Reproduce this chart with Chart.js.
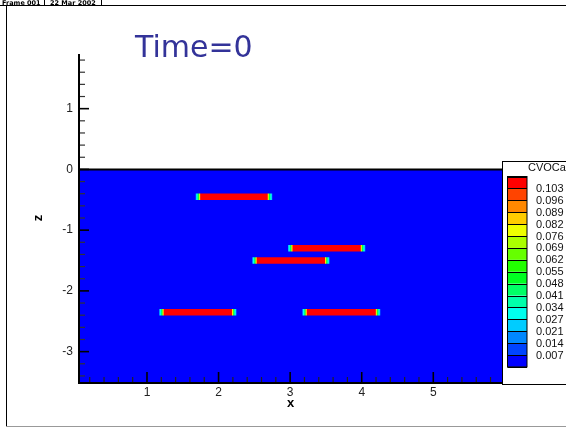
<!DOCTYPE html>
<html><head><meta charset="utf-8">
<script src="https://cdn.jsdelivr.net/npm/chart.js@4/dist/chart.umd.min.js"></script>
<style>html,body{margin:0;padding:0;background:#fff;overflow:hidden}#wrap{position:relative;width:566px;height:428px}</style>
</head><body><div id="wrap"><canvas id="c" width="566" height="428"></canvas></div>
<script>
// ---- data ----
const barStartX = [1.68, 2.97, 2.47, 1.17, 3.17];
const barEndX   = [2.75, 4.05, 3.55, 2.25, 4.26];
const barZ      = [-0.45, -1.30, -1.50, -2.35, -2.35];
const domainX = [0.05, 5.96];
const domainTopZ = 0;
const yRange = [-3.5, 1.9];
const xTickLabels = [1, 2, 3, 4, 5];
const yTickLabels = [1, 0, -1, -2, -3];
const minorStep = 0.2;
const legendTitle = 'CVOCa';
const legendLevels = ['0.103','0.096','0.089','0.082','0.076','0.069','0.062','0.055','0.048','0.041','0.034','0.027','0.021','0.014','0.007'];
const legendColors = ['#ff0000','#ff4400','#ff8800','#ffcc00','#eeff00','#aaff00','#66ff00','#22ff00','#00ff22','#00ff66','#00ffaa','#00ffee','#00ccff','#0088ff','#0044ff','#0000ff'];
const titleText = 'Time=0';
const frameLabels = ['Frame 001', '22 Mar 2002'];

function makeTicks(min, max) {
  const t = [];
  const a = Math.ceil(min / minorStep - 1e-9), b = Math.floor(max / minorStep + 1e-9);
  for (let k = a; k <= b; k++) t.push({ value: Math.round(k * minorStep * 1000) / 1000 });
  return t;
}
function isLabel(v, arr) { return Math.abs(v - Math.round(v)) < 1e-6 && arr.includes(Math.round(v)); }

function barGradient(ctx, i) {
  const chart = ctx.chart, xs = chart.scales && chart.scales.x;
  if (!xs || !chart.chartArea) return '#ff0000';
  const p0 = xs.getPixelForValue(barStartX[i]), p1 = xs.getPixelForValue(barEndX[i]);
  if (!isFinite(p0) || !isFinite(p1) || p1 <= p0) return '#ff0000';
  const f = 5 / (p1 - p0);
  const g = chart.ctx.createLinearGradient(p0, 0, p1, 0);
  g.addColorStop(0, '#0090ff'); g.addColorStop(f * 0.25, '#00ffff'); g.addColorStop(f * 0.55, '#00ff40');
  g.addColorStop(f * 0.8, '#ffee00'); g.addColorStop(f, '#ff0000');
  g.addColorStop(1 - f, '#ff0000'); g.addColorStop(1 - f * 0.8, '#ffee00'); g.addColorStop(1 - f * 0.55, '#00ff40');
  g.addColorStop(1 - f * 0.25, '#00ffff'); g.addColorStop(1, '#0090ff');
  return g;
}

const datasets = barZ.map((z, i) => ({
  type: 'line', order: 0,
  data: [{ x: barStartX[i], y: z }, { x: barEndX[i], y: z }],
  borderColor: (c) => barGradient(c, i), borderWidth: 6.5, borderCapStyle: 'butt',
  pointRadius: 0, fill: false
}));
datasets.push({
  type: 'line', order: 10,
  data: [{ x: domainX[0], y: domainTopZ }, { x: domainX[1], y: domainTopZ }],
  borderColor: '#000', borderWidth: 2, backgroundColor: '#0000ff', fill: 'start', pointRadius: 0
});

const deco = {
  id: 'deco',
  afterDatasetsDraw(chart) {
    const c = chart.ctx, a = chart.chartArea, xs = chart.scales.x, ys = chart.scales.y;
    c.save();
    xs.ticks.forEach(t => {
      const p = xs.getPixelForValue(t.value), maj = Math.abs(t.value - Math.round(t.value)) < 1e-6;
      c.strokeStyle = maj ? '#000' : '#222'; c.lineWidth = maj ? 1.6 : 1.2;
      c.beginPath(); c.moveTo(p, a.bottom); c.lineTo(p, a.bottom - (maj ? 10 : 5)); c.stroke();
    });
    ys.ticks.forEach(t => {
      const p = ys.getPixelForValue(t.value), maj = Math.abs(t.value - Math.round(t.value)) < 1e-6;
      c.strokeStyle = maj ? '#000' : '#333'; c.lineWidth = maj ? 1.6 : 1.2;
      c.beginPath(); c.moveTo(a.left, p); c.lineTo(a.left + (maj ? 10 : 6), p); c.stroke();
    });
    c.strokeStyle = '#000'; c.lineWidth = 2;
    c.beginPath(); c.moveTo(a.left, a.top); c.lineTo(a.left, a.bottom + 1); c.lineTo(a.right, a.bottom + 1); c.stroke();
    c.restore();
  },
  afterDraw(chart) {
    const c = chart.ctx, a = chart.chartArea;
    c.save();
    const lx = a.right, ly = 161, lb = 384;
    c.fillStyle = '#fff'; c.fillRect(lx, ly, 80, lb - ly);
    c.strokeStyle = '#000'; c.lineWidth = 1;
    c.strokeRect(lx + 0.5, ly + 0.5, 80, lb - ly);
    c.fillStyle = '#111'; c.font = '11px "Liberation Sans", Arial, sans-serif';
    c.textBaseline = 'middle'; c.textAlign = 'left';
    c.fillText(legendTitle, lx + 26, ly + 7);
    const sx = lx + 5.5, sw = 19.5, sTop = 176.5, sh = 11.9;
    legendColors.forEach((col, k) => {
      c.fillStyle = col; c.fillRect(sx, sTop + k * sh, sw, sh);
    });
    c.strokeStyle = '#000'; c.lineWidth = 1;
    for (let k = 0; k <= legendColors.length; k++) {
      const yy = Math.round(sTop + k * sh) + 0.5;
      c.beginPath(); c.moveTo(sx, yy); c.lineTo(sx + sw, yy); c.stroke();
    }
    c.strokeRect(sx, sTop, sw, legendColors.length * sh);
    c.fillStyle = '#111';
    legendLevels.forEach((lab, k) => {
      c.fillText(lab, lx + 34, sTop + (k + 1) * sh + 0.5);
    });
    c.fillStyle = '#333399'; c.font = '30px "DejaVu Sans", sans-serif'; c.textBaseline = 'alphabetic';
    c.fillText(titleText, 135, 57);
    c.fillStyle = '#000'; c.font = 'bold 6.5px "DejaVu Sans", sans-serif'; c.textBaseline = 'alphabetic';
    c.fillText(frameLabels[0], 2, 5);
    c.fillText(frameLabels[1], 50, 5);
    c.strokeStyle = '#000'; c.lineWidth = 1;
    c.beginPath(); c.moveTo(0, 5.5); c.lineTo(566, 5.5); c.stroke();
    c.beginPath(); c.moveTo(44.5, 0); c.lineTo(44.5, 5.5); c.moveTo(101.5, 0); c.lineTo(101.5, 5.5); c.stroke();
    c.beginPath(); c.moveTo(6.5, 5.5); c.lineTo(6.5, 426); c.stroke();
    c.strokeStyle = '#999';
    c.beginPath(); c.moveTo(6, 426.5); c.lineTo(566, 426.5); c.stroke();
    c.restore();
  }
};

new Chart(document.getElementById('c'), {
  type: 'line',
  data: { datasets },
  plugins: [deco],
  options: {
    responsive: false, animation: false, devicePixelRatio: 1,
    layout: { padding: { left: 31, top: 54, right: 64, bottom: 17 } },
    plugins: { legend: { display: false }, tooltip: { enabled: false }, title: { display: false } },
    scales: {
      x: {
        type: 'linear', min: domainX[0], max: domainX[1],
        grid: { display: false, drawTicks: false }, border: { display: false },
        afterBuildTicks: s => { s.ticks = makeTicks(s.min, s.max); },
        afterFit: s => { s.height = 29; },
        ticks: { autoSkip: false, maxRotation: 0, padding: 3, color: '#222',
          font: { family: '"Liberation Sans", Arial, sans-serif', size: 12 },
          callback: v => isLabel(v, xTickLabels) ? String(Math.round(v)) : '' },
        title: { display: true, text: 'x', color: '#000', padding: 0,
          font: { family: '"Liberation Sans", Arial, sans-serif', size: 13, weight: 'bold' } }
      },
      y: {
        type: 'linear', min: yRange[0], max: yRange[1],
        grid: { display: false, drawTicks: false }, border: { display: false },
        afterBuildTicks: s => { s.ticks = makeTicks(s.min, s.max); },
        afterFit: s => { s.width = 48; },
        ticks: { autoSkip: false, padding: 6, color: '#222',
          font: { family: '"Liberation Sans", Arial, sans-serif', size: 12 },
          callback: v => isLabel(v, yTickLabels) ? String(Math.round(v)) : '' },
        title: { display: true, text: 'z', color: '#000', padding: 0,
          font: { family: '"Liberation Sans", Arial, sans-serif', size: 13, weight: 'bold' } }
      }
    }
  }
});
</script></body></html>
